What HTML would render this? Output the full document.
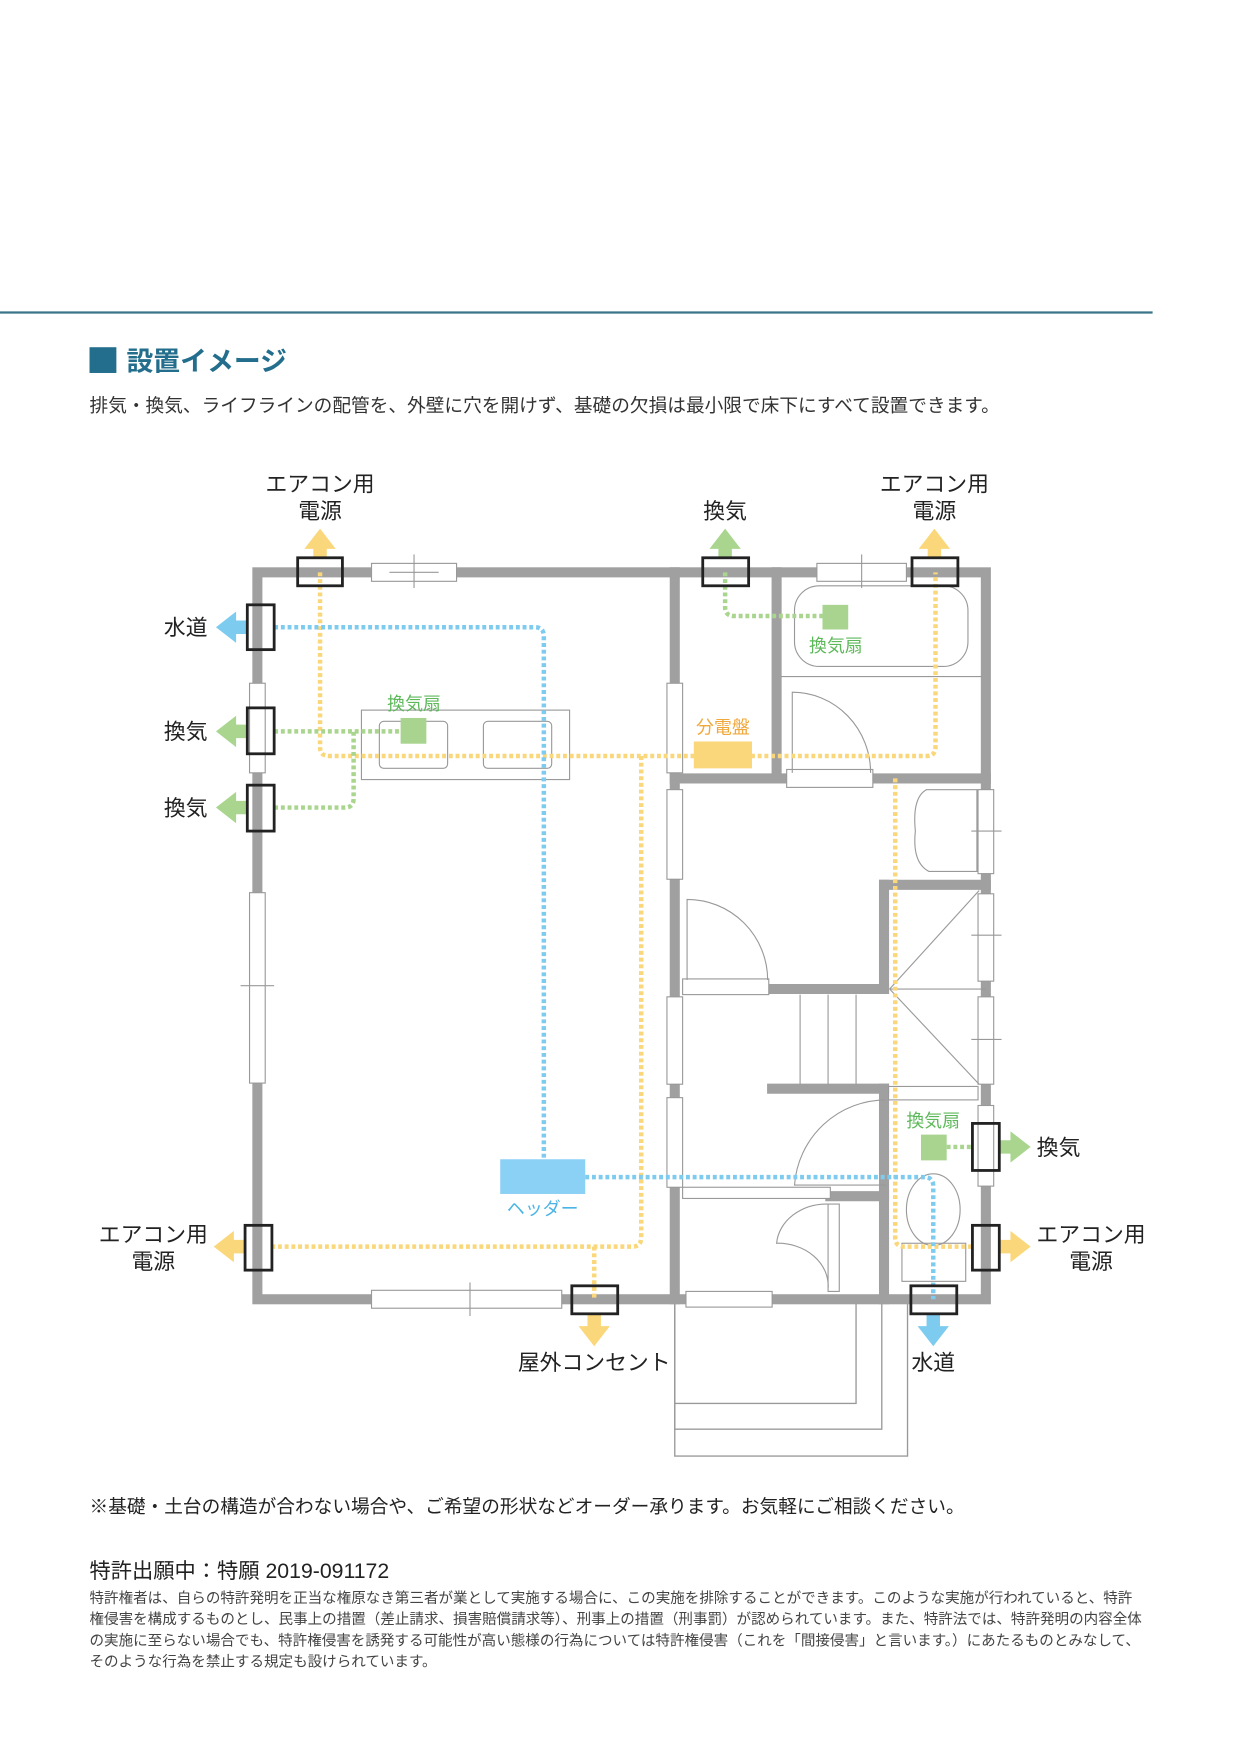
<!DOCTYPE html>
<html><head><meta charset="utf-8"><style>
html,body{margin:0;padding:0;background:#fff}
svg{display:block}
text{font-family:"Liberation Sans","Noto Sans CJK JP",sans-serif}
</style></head><body>
<svg width="1241" height="1754" viewBox="0 0 1109 1566" preserveAspectRatio="none" xmlns="http://www.w3.org/2000/svg">
<line x1="0" y1="279" x2="1030" y2="279" stroke="#3a7488" stroke-width="2"/>
<rect x="80" y="310" width="24" height="23" fill="#236e8c"/>
<text x="113" y="331" font-size="24" font-weight="bold" fill="#236e8c">設置イメージ</text>
<text x="80" y="368" font-size="16.7" fill="#333">排気・換気、ライフラインの配管を、外壁に穴を開けず、基礎の欠損は最小限で床下にすべて設置できます。</text>

<g fill="none" stroke="#999" stroke-width="1.2">
<rect x="603" y="1160" width="208" height="140"/>
<rect x="603" y="1160" width="185" height="116"/>
<rect x="603" y="1160" width="162" height="93"/>
</g>

<g stroke="#a0a0a0" stroke-width="9" fill="none" stroke-linecap="square">
<rect x="230" y="511" width="651" height="649"/>
<line x1="603" y1="511" x2="603" y2="1160"/>
<line x1="694" y1="511" x2="694" y2="695"/>
<line x1="603" y1="695" x2="881" y2="695"/>
<line x1="690" y1="883" x2="790" y2="883"/>
<line x1="690" y1="972" x2="790" y2="972"/>
<line x1="790" y1="790" x2="790" y2="883"/>
<line x1="790" y1="790" x2="881" y2="790"/>
<line x1="790" y1="972" x2="790" y2="1160"/>
<line x1="742" y1="1068" x2="790" y2="1068"/>
</g>
<g fill="#fff" stroke="#999" stroke-width="1">
<rect x="332" y="503" width="76" height="16"/>
<rect x="730" y="503" width="80" height="16"/>
<rect x="223" y="610" width="14" height="80"/>
<rect x="223" y="797" width="14" height="170"/>
<rect x="332" y="1152" width="170" height="16"/>
<rect x="874" y="705" width="14" height="75"/>
<rect x="874" y="798" width="14" height="78"/>
<rect x="874" y="890" width="14" height="78"/>
<rect x="874" y="987" width="14" height="72"/>
<rect x="596" y="610" width="14" height="80"/>
<rect x="596" y="705" width="14" height="80"/>
<rect x="596" y="890" width="14" height="78"/>
<rect x="596" y="980" width="14" height="80"/>
<rect x="703" y="687" width="77" height="16"/>
<rect x="613" y="1153" width="77" height="14"/>
<rect x="610" y="874" width="77" height="14"/>
<rect x="610" y="1060" width="132" height="10"/>
</g>
<g stroke="#999" stroke-width="1" fill="none">
<line x1="370" y1="495" x2="370" y2="525"/><line x1="348" y1="511" x2="392" y2="511"/>
<line x1="770" y1="495" x2="770" y2="525"/>
<line x1="215" y1="880" x2="245" y2="880"/>
<line x1="420" y1="1145" x2="420" y2="1175"/>
<line x1="868" y1="742" x2="895" y2="742"/><line x1="868" y1="835" x2="895" y2="835"/><line x1="868" y1="928" x2="895" y2="928"/>
<rect x="323" y="634" width="186" height="62"/>
<rect x="339" y="644" width="61" height="42" rx="4"/>
<rect x="432" y="644" width="61" height="42" rx="4"/>
<rect x="710" y="523" width="155" height="72" rx="22"/>
<line x1="698" y1="604" x2="877" y2="604"/>
<path d="M708 690 V618 A70 72 0 0 1 778 690"/>
<path d="M614 875 V803 A72 72 0 0 1 686 875"/>
<path d="M792 982 A82 82 0 0 0 710 1058 H792"/>
<rect x="740" y="1075" width="10" height="78"/>
<path d="M740 1075 A45 38 0 0 0 694 1110 A45 38 0 0 1 740 1150"/>
<line x1="795" y1="883" x2="875" y2="795"/><line x1="795" y1="883" x2="875" y2="968"/>
<line x1="795" y1="883" x2="881" y2="883"/>
<line x1="715" y1="888" x2="715" y2="968"/><line x1="740" y1="888" x2="740" y2="968"/><line x1="765" y1="888" x2="765" y2="968"/>
<path d="M828 705 H873 V778 H830 Q815 770 818 742 Q815 712 828 705Z"/>
<ellipse cx="834" cy="1080" rx="24" ry="32"/>
<rect x="806" y="1110" width="57" height="34"/>
<rect x="794" y="970" width="80" height="12"/>
</g>

<g fill="none" stroke-width="4" stroke-dasharray="3.5 2.5">
<path stroke="#f9d77a" d="M286 511 V667 Q286 675 294 675 H828 Q836 675 836 667 V511"/>
<path stroke="#f9d77a" d="M573 675 V1105 Q573 1113 565 1113 H243"/>
<path stroke="#f9d77a" d="M531 1113 V1160"/>
<path stroke="#f9d77a" d="M800 695 V1105 Q800 1113 808 1113 H869"/>
<path stroke="#7ecbf0" d="M245 560 H478 Q486 560 486 568 V1035"/>
<path stroke="#7ecbf0" d="M523 1051 H826 Q834 1051 834 1059 V1160"/>
<path stroke="#a9d58e" d="M648 511 V542 Q648 550 656 550 H735"/>
<path stroke="#a9d58e" d="M245 653 H358"/>
<path stroke="#a9d58e" d="M245 721 H308 Q316 721 316 713 V653"/>
<path stroke="#a9d58e" d="M846 1024 H869"/>
</g>
<rect x="735" y="540" width="23" height="22" fill="#a8d490"/>
<rect x="358" y="641" width="23" height="23" fill="#a8d490"/>
<rect x="823" y="1013" width="23" height="23" fill="#a8d490"/>
<rect x="620" y="662" width="52" height="24" fill="#f9d77a"/>
<rect x="447" y="1035" width="76" height="31" fill="#8bd0f5"/>

<g>
<path fill="#f9d77a" d="M280 498 V490 H272 L286 472 L300 490 H292 V498Z"/>
<path fill="#a9d58e" d="M642 498 V490 H634 L648 472 L662 490 H654 V498Z"/>
<path fill="#f9d77a" d="M829 498 V490 H821 L835 472 L849 490 H841 V498Z"/>
<path fill="#7ecbf0" d="M221 554 H211 V546 L193 560 L211 574 V566 H221Z"/>
<path fill="#a9d58e" d="M221 647 H211 V639 L193 653 L211 667 V659 H221Z"/>
<path fill="#a9d58e" d="M221 715 H211 V707 L193 721 L211 735 V727 H221Z"/>
<path fill="#f9d77a" d="M219 1107 H209 V1099 L191 1113 L209 1127 V1119 H219Z"/>
<path fill="#a9d58e" d="M893 1018 H903 V1010 L921 1024 L903 1038 V1030 H893Z"/>
<path fill="#f9d77a" d="M893 1107 H903 V1099 L921 1113 L903 1127 V1119 H893Z"/>
<path fill="#f9d77a" d="M525 1173 V1184 H517 L531 1202 L545 1184 H537 V1173Z"/>
<path fill="#7ecbf0" d="M828 1173 V1184 H820 L834 1202 L848 1184 H840 V1173Z"/>
</g>

<g fill="#fff" fill-opacity="0" stroke="#222" stroke-width="2.5">
<rect x="266" y="498" width="40" height="25"/>
<rect x="628" y="498" width="41" height="25"/>
<rect x="815" y="498" width="41" height="25"/>
<rect x="221" y="540" width="24" height="40"/>
<rect x="221" y="632" width="24" height="41"/>
<rect x="221" y="701" width="24" height="41"/>
<rect x="219" y="1094" width="24" height="40"/>
<rect x="869" y="1003" width="24" height="42"/>
<rect x="869" y="1094" width="24" height="40"/>
<rect x="511" y="1148" width="41" height="25"/>
<rect x="814" y="1148" width="41" height="25"/>
</g>

<g font-size="19.5" fill="#222" text-anchor="middle">
<text x="286" y="439">エアコン用</text><text x="286" y="463">電源</text>
<text x="648" y="463">換気</text>
<text x="835" y="439">エアコン用</text><text x="835" y="463">電源</text>
<text x="166" y="567">水道</text>
<text x="166" y="660">換気</text>
<text x="166" y="728">換気</text>
<text x="137" y="1109">エアコン用</text><text x="137" y="1133">電源</text>
<text x="946" y="1031">換気</text>
<text x="975" y="1109">エアコン用</text><text x="975" y="1133">電源</text>
<text x="531" y="1223">屋外コンセント</text>
<text x="834" y="1223">水道</text>
</g>
<g font-size="16" text-anchor="middle">
<text x="747" y="582" fill="#5db85a">換気扇</text>
<text x="370" y="634" fill="#5db85a">換気扇</text>
<text x="834" y="1006" fill="#5db85a">換気扇</text>
<text x="646" y="655" fill="#f0a83c">分電盤</text>
<text x="485" y="1085" fill="#4ab4e6">ヘッダー</text>
</g>

<text x="80" y="1351" font-size="16.7" fill="#222">※基礎・土台の構造が合わない場合や、ご希望の形状などオーダー承ります。お気軽にご相談ください。</text>
<text x="80" y="1409" font-size="19" fill="#222">特許出願中：特願 2019-091172</text>
<g font-size="13" fill="#444">
<text x="80" y="1431">特許権者は、自らの特許発明を正当な権原なき第三者が業として実施する場合に、この実施を排除することができます。このような実施が行われていると、特許</text>
<text x="80" y="1450">権侵害を構成するものとし、民事上の措置（差止請求、損害賠償請求等）、刑事上の措置（刑事罰）が認められています。また、特許法では、特許発明の内容全体</text>
<text x="80" y="1469">の実施に至らない場合でも、特許権侵害を誘発する可能性が高い態様の行為については特許権侵害（これを「間接侵害」と言います。）にあたるものとみなして、</text>
<text x="80" y="1488">そのような行為を禁止する規定も設けられています。</text>
</g>
</svg>
</body></html>
